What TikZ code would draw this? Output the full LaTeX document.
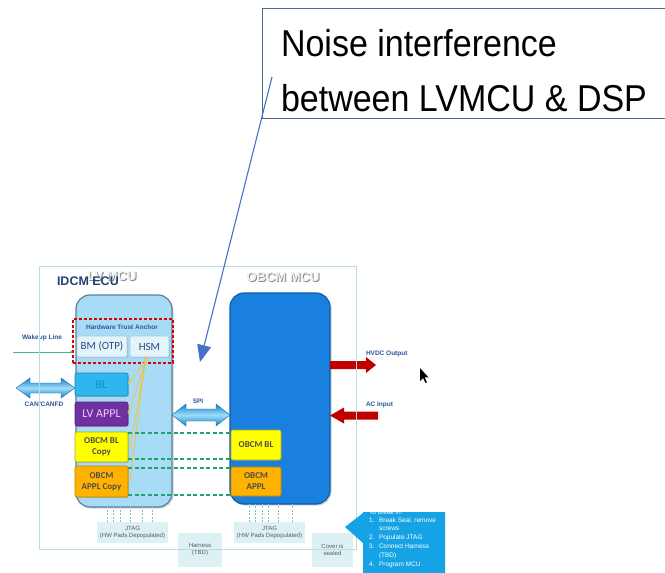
\documentclass[tikz,border=0pt]{standalone}
\usepackage{fontspec}
\setmainfont{Liberation Sans}
\newfontfamily\calfont{Carlito}
\usetikzlibrary{arrows.meta,calc,shadows}
\definecolor{lvfill}{HTML}{A8DCF6}
\definecolor{lvedge}{HTML}{5B7F9D}
\definecolor{obfill}{HTML}{1A80E0}
\definecolor{obedge}{HTML}{0E5CA8}
\definecolor{blfill}{HTML}{2FB6EF}
\definecolor{bltext}{HTML}{1A8BC6}
\definecolor{purp}{HTML}{7030A0}
\definecolor{purptext}{HTML}{EBCDF2}
\definecolor{yel}{HTML}{FFFF00}
\definecolor{yeledge}{HTML}{A8A830}
\definecolor{orng}{HTML}{FFB300}
\definecolor{orngedge}{HTML}{C08000}
\definecolor{pale}{HTML}{E4F4FB}
\definecolor{paleedge}{HTML}{A9CCDD}
\definecolor{lbl}{HTML}{2F5597}
\definecolor{ecu}{HTML}{B5DDE8}
\definecolor{jtag}{HTML}{DDF1F5}
\definecolor{bubble}{HTML}{16A3E6}
\definecolor{noteline}{HTML}{4A6A90}
\definecolor{pointer}{HTML}{4472C4}
\definecolor{grn}{HTML}{1FA463}
\definecolor{yline}{HTML}{F3C245}
\definecolor{redarr}{HTML}{C00000}
\definecolor{arrdark}{HTML}{1281D0}
\definecolor{arrlight}{HTML}{9FDCF8}
\definecolor{dots}{HTML}{7CC6C6}
\newcommand\boxat[7]{\node[#6, minimum width={#4-#2}, minimum height={#5-#3}] (#1) at ({(#2+#4)/2},{(#3+#5)/2}) {#7};}
\newcommand\dblarrow[6]{\path[#6] (#1) -- ($(#1)+(#5,-#4)$) -- ($(#1)+(#5,-#3)$) -- ($(#2)+(-#5,-#3)$) -- ($(#2)+(-#5,-#4)$) -- (#2) -- ($(#2)+(-#5,#4)$) -- ($(#2)+(-#5,#3)$) -- ($(#1)+(#5,#3)$) -- ($(#1)+(#5,#4)$) -- cycle;}
\newcommand\rarrow[6]{\path[#6] ($(#1)+(0,-#3)$) -- ($(#2)+(-#5,-#3)$) -- ($(#2)+(-#5,-#4)$) -- (#2) -- ($(#2)+(-#5,#4)$) -- ($(#2)+(-#5,#3)$) -- ($(#1)+(0,#3)$) -- cycle;}
\newcommand\larrow[6]{\path[#6] ($(#1)+(0,-#3)$) -- ($(#2)+(#5,-#3)$) -- ($(#2)+(#5,-#4)$) -- (#2) -- ($(#2)+(#5,#4)$) -- ($(#2)+(#5,#3)$) -- ($(#1)+(0,#3)$) -- cycle;}
\begin{document}
\begin{tikzpicture}[x=1pt,y=-1pt,
  every node/.style={inner sep=0pt, outer sep=0pt},
  mcu/.style={rounded corners=14pt, line width=1.2pt, drop shadow={opacity=0.35, shadow xshift=1.5pt, shadow yshift=-1.5pt}},
  inbox/.style={rounded corners=2pt, line width=0.6pt, drop shadow={opacity=0.3, shadow xshift=1pt, shadow yshift=-1pt}, align=center},
  small/.style={font=\fontsize{6.5}{7.5}\selectfont\bfseries, text=lbl},
  tiny/.style={font=\fontsize{6}{7}\selectfont, text=black!65, align=center},
  ghost/.style={font=\fontsize{13}{14}\selectfont\bfseries},
  yl/.style={draw=yline, line width=0.9pt, -{Stealth[length=3pt,width=3pt]}},
  gd/.style={draw=grn, line width=1.6pt, dash pattern=on 4pt off 2.5pt},
  dl/.style={draw=dots, line width=0.8pt, dash pattern=on 2pt off 1.5pt},
  note/.style={font=\fontsize{6.5}{7}\selectfont, text=white, anchor=base west}
]
\useasboundingbox (0,0) rectangle (665,573);
\fill[white] (0,0) rectangle (665,573);

% callout text box
\node[font=\fontsize{34}{40}\selectfont, anchor=base west] (n1) at (281,56) {\scalebox{1}[1.1]{Noise interference}};
\node[font=\fontsize{34}{40}\selectfont, anchor=base west] (n2) at (281,111) {\scalebox{1}[1.1]{between LVMCU \& DSP}};
\draw[noteline, line width=0.8pt] (665,8) -- (262,8) -- (262,118) -- (665,118);

% ghost titles
\node[ghost, text=black!45] at (113,277) {LV MCU};
\node[ghost, text=black!6] (lvtitle) at (112,276) {LV MCU};
\node[ghost, text=black!45] at (284,278) {OBCM MCU};
\node[ghost, text=black!6] (obtitle) at (283,277) {OBCM MCU};
\node[font=\fontsize{12.5}{14}\selectfont\bfseries, text=lbl!80!black, anchor=west] (ecutitle) at (57,281) {IDCM ECU};

% MCUs
\boxat{lvmcu}{76}{295}{172}{507}{mcu, fill=lvfill, draw=lvedge}{}
\boxat{obmcu}{230}{293}{330}{504}{mcu, fill=obfill, draw=obedge}{}

% Hardware trust anchor
\boxat{hta}{73}{319}{173}{363}{draw=red!85!black, line width=1.3pt, dash pattern=on 3pt off 2pt}{}
\node[small, font=\fontsize{6.5}{7}\selectfont\bfseries] (htalabel) at (122,327.5) {Hardware Trust Anchor};
\boxat{bm}{77}{336}{127}{357}{inbox, fill=pale, draw=paleedge, font=\calfont\fontsize{11}{12}\selectfont, text=lbl!85!black}{BM (OTP)}
\boxat{hsm}{130}{336}{169}{357}{inbox, fill=pale, draw=paleedge, font=\calfont\fontsize{11}{12}\selectfont, text=lbl!85!black}{HSM}

% LV boxes
\boxat{bl}{75}{373}{128}{396}{inbox, fill=blfill, draw=blfill!70!black, font=\calfont\fontsize{12}{13}\selectfont, text=bltext}{BL}
\boxat{lvappl}{75}{402}{128}{426}{inbox, fill=purp, draw=purp!70!black, font=\calfont\fontsize{12}{13}\selectfont, text=purptext}{LV APPL}
\boxat{blcopy}{75}{432}{128}{462}{inbox, fill=yel, draw=yeledge, font=\calfont\fontsize{9}{11}\selectfont\bfseries, text=black!70}{OBCM BL\\Copy}
\boxat{applcopy}{75}{466}{128}{497}{inbox, fill=orng, draw=orngedge, font=\calfont\fontsize{9}{11}\selectfont\bfseries, text=black!70}{OBCM\\APPL Copy}

% OBCM boxes
\boxat{obbl}{231}{430}{281}{460}{inbox, fill=yel, draw=yeledge, font=\calfont\fontsize{9}{11}\selectfont\bfseries, text=black!70}{OBCM BL}
\boxat{obappl}{231}{467}{281}{496}{inbox, fill=orng, draw=orngedge, font=\calfont\fontsize{9}{11}\selectfont\bfseries, text=black!70}{OBCM\\APPL}

% yellow lines from HSM
\draw[yl] ($(hsm.south)+(-1,0)$) -- (bl.east);
\draw[yl] ($(hsm.south)+(-2,0)$) -- (lvappl.east);
\draw[yl] ($(hsm.south)+(-3,0)$) -- ($(blcopy.east)+(2,0)$);
\draw[yl] ($(hsm.south)+(-4,0)$) -- ($(applcopy.east)+(2,0)$);

% green dashed lines
\draw[gd] ($(blcopy.north east)+(0,1)$) -- ($(blcopy.north east -| obbl.west)+(0,1)$);
\draw[gd] ($(blcopy.south east)+(0,-3)$) -- ($(blcopy.south east -| obbl.west)+(0,-3)$);
\draw[gd] ($(applcopy.north east)+(0,2)$) -- ($(applcopy.north east -| obbl.west)+(0,2)$);
\draw[gd] ($(applcopy.south east)+(0,-2)$) -- ($(applcopy.south east -| obbl.west)+(0,-2)$);

% wakeup line
\coordinate (wk) at (13,352);
\draw[grn!80, line width=0.8pt, -{Stealth[length=3pt,width=3pt]}] (wk) -- (wk -| hta.west);
\node[small] (wklabel) at (42,338) {Wakeup Line};

% CAN arrow
\coordinate (canL) at (16,388);
\coordinate (canR) at (canL -| bl.west);
\dblarrow{canL}{canR}{5}{10}{14}{top color=arrdark, bottom color=arrdark, middle color=arrlight, draw=arrdark!80!black, line width=0.4pt}
\node[small] (canlabel) at (44,404) {CAN/CANFD};

% SPI arrow
\coordinate (spiy) at (0,415);
\coordinate (spiL) at (lvmcu.east |- spiy);
\coordinate (spiR) at (obmcu.west |- spiy);
\dblarrow{spiL}{spiR}{6}{11}{14}{top color=arrdark, bottom color=arrdark, middle color=arrlight, draw=arrdark!80!black, line width=0.4pt}
\node[small] (spilabel) at (198,401) {SPI};

% red arrows
\coordinate (hvy) at (0,365);
\coordinate (hvL) at (obmcu.east |- hvy);
\coordinate (hvR) at (376,365);
\rarrow{hvL}{hvR}{4}{8}{10}{fill=redarr}
\node[small, anchor=west] (hvlabel) at (366,354) {HVDC Output};
\coordinate (acy) at (0,415.5);
\coordinate (acR) at (378,415.5);
\coordinate (acL) at (obmcu.east |- acy);
\larrow{acR}{acL}{4}{8}{14}{fill=redarr}
\node[small, anchor=west] (aclabel) at (366,405) {AC Input};

% cursor
\fill[black] (420,368) -- (420,381) -- (423,378) -- (425.5,383) -- (427,382.3) -- (424.6,377.4) -- (428.5,377.4) -- cycle;

% JTAG
\boxat{jtag1}{97}{522}{168}{543}{fill=jtag, tiny}{JTAG\\(HW Pads Depopulated)}
\boxat{jtag2}{234}{522}{305}{543}{fill=jtag, tiny}{JTAG\\(HW Pads Depopulated)}
\foreach \xx in {107,113,120,130,142,152} {\draw[dl] (jtag1.north -| \xx,0) -- (lvmcu.south -| \xx,0);}
\foreach \xx in {249,255,262,268,278,292} {\draw[dl] (jtag2.north -| \xx,0) -- (obmcu.south -| \xx,0);}
\boxat{harness}{178}{533}{222}{567}{fill=jtag, tiny}{Harness\\(TBD)}
\boxat{cover}{312}{533}{353}{567}{fill=jtag, tiny}{Cover is\\sealed}

% IDCM ECU outline
\draw[ecu, line width=1pt] (39,266) rectangle (356,549);

% bubble
\fill[bubble] (363,512) -- (445,512) -- (445,573) -- (363,573) -- (363,543) -- (345,527) -- (363,513) -- cycle;
\begin{scope}
\clip (363,512) rectangle (445,573);
\node[note] (t0) at (369,514.5) {To break in:};
\end{scope}
\node[note] (t1n) at (369,522) {1.};
\node[note] (t1) at (379,522) {Break Seal, remove};
\node[note] (t1b) at (379,530.5) {screws};
\node[note] (t2n) at (369,539.5) {2.};
\node[note] (t2) at (379,539.5) {Populate JTAG};
\node[note] (t3n) at (369,548.5) {3.};
\node[note] (t3) at (379,548.5) {Connect Harness};
\node[note] (t3b) at (379,557) {(TBD)};
\node[note] (t4n) at (369,566.5) {4.};
\node[note] (t4) at (379,566.5) {Program MCU};

% pointer from note to diagram
\coordinate (pstart) at (272,77);
\coordinate (ptip) at (200,362);
\draw[pointer, line width=1.1pt, -{Triangle[length=17pt,width=14pt]}] (pstart) -- (ptip);
\end{tikzpicture}
\end{document}
